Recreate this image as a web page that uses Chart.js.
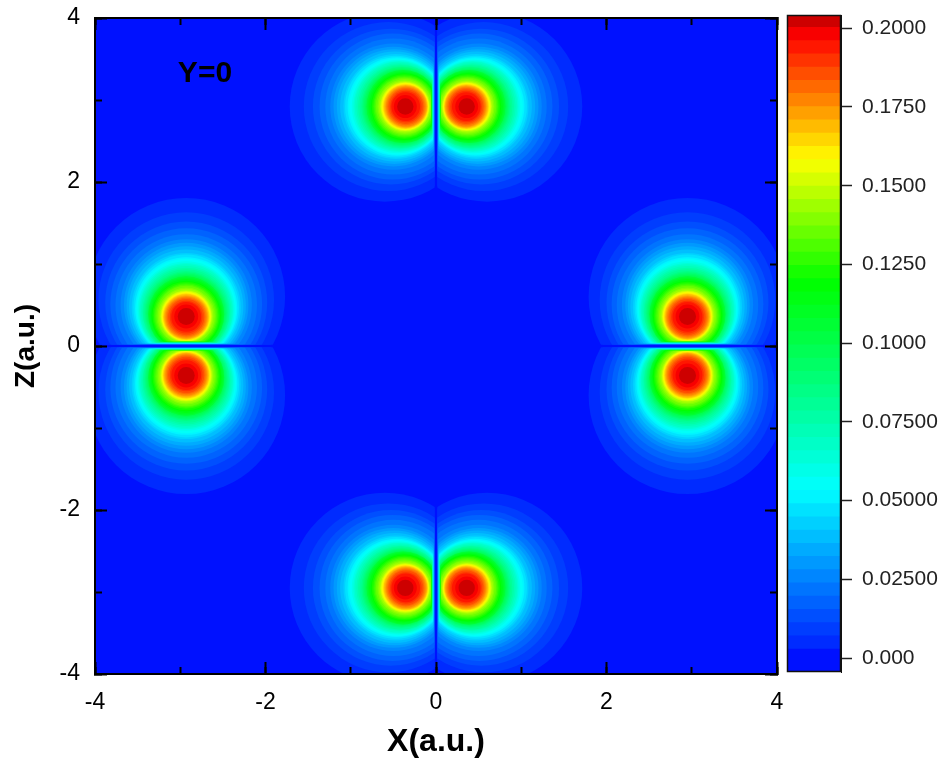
<!DOCTYPE html>
<html><head><meta charset="utf-8">
<script src="https://cdn.jsdelivr.net/npm/chart.js@4.4.1/dist/chart.umd.min.js"></script>
<style>
html,body{margin:0;padding:0;background:#fff;}
#wrap{position:relative;width:943px;height:766px;overflow:hidden;}
#main{position:absolute;left:0;top:0;}
#cbar{position:absolute;left:780px;top:0;}
</style></head><body>
<div id="wrap"><canvas id="main" width="943" height="766"></canvas><canvas id="cbar" width="163" height="766"></canvas></div>
<script>
// ---------------- data ----------------
// orbital sites (centre of each lobe pair) and the axis along which the pair is split
const siteX = [0.0, -2.93, 2.95, 0.0];
const siteZ = [2.92, 0.0, 0.0, -2.95];
const siteSplitAxis = ['x', 'z', 'z', 'x'];

// contour levels of the density
const contourLevels = [0.0033,0.0075,0.0117,0.0159,0.0201,0.0243,0.0285,0.0327,0.0369,0.0411,
  0.0453,0.0495,0.0537,0.0579,0.0621,0.0663,0.0705,0.0747,0.0789,0.0831,
  0.0873,0.0915,0.0957,0.0999,0.1041,0.1083,0.1125,0.1167,0.1209,0.1251,
  0.1293,0.1335,0.1377,0.1419,0.1461,0.1503,0.1545,0.1587,0.1629,0.1671,
  0.1713,0.1755,0.1797,0.1839,0.1881,0.1923,0.1965,0.2007];
// outward reach of each contour from the nodal line (a.u.)
const contourOuterReach = [1.76,1.59,1.48,1.40,1.33,1.27,1.23,1.19,1.15,1.11,
  1.09,1.06,1.04,1.01,0.99,0.975,0.955,0.935,0.915,0.895,
  0.88,0.865,0.85,0.835,0.83,0.815,0.80,0.78,0.768,0.75,
  0.735,0.72,0.70,0.685,0.668,0.66,0.65,0.64,0.63,0.62,
  0.607,0.595,0.58,0.565,0.545,0.53,0.50,0.46];
// half width of each contour across the lobe (a.u.)
const contourHalfWidth = [1.16,1.03,0.95,0.89,0.83,0.77,0.73,0.70,0.67,0.64,
  0.62,0.60,0.585,0.57,0.555,0.545,0.53,0.515,0.505,0.49,
  0.478,0.465,0.452,0.44,0.445,0.432,0.418,0.407,0.395,0.38,
  0.365,0.35,0.335,0.318,0.305,0.297,0.289,0.281,0.273,0.264,
  0.254,0.242,0.227,0.212,0.192,0.175,0.14,0.10];
// distance from the nodal line where each contour stops (a.u.)
const contourNodeGap = [0.015,0.015,0.017,0.020,0.022,0.025,0.027,0.029,0.030,0.032,
  0.034,0.035,0.037,0.038,0.039,0.041,0.042,0.043,0.044,0.046,
  0.047,0.048,0.049,0.050,0.051,0.052,0.053,0.054,0.055,0.056,
  0.057,0.058,0.059,0.060,0.061,0.062,0.063,0.064,0.065,0.066,
  0.067,0.068,0.069,0.070,0.071,0.072,0.073,0.074];

const xTickValues = [-4, -2, 0, 2, 4];
const xTickLabels = ['-4', '-2', '0', '2', '4'];
const zTickValues = [-4, -2, 0, 2, 4];
const zTickLabels = ['-4', '-2', '0', '2', '4'];
const cbRange = [-0.0044, 0.2042];
const cbTickValues = [0, 0.025, 0.05, 0.075, 0.1, 0.125, 0.15, 0.175, 0.2];
const cbTickLabels = ['0.000', '0.02500', '0.05000', '0.07500', '0.1000', '0.1250', '0.1500', '0.1750', '0.2000'];
const annotText = 'Y=0';
const annotPos = [-2.71, 3.32];
const xTitle = 'X(a.u.)';
const zTitle = 'Z(a.u.)';

// ---------------- colour map ----------------
const cmapStops = [[-0.0044,[0,0,255]],[0.054,[0,255,255]],[0.1196,[0,255,0]],[0.1587,[255,255,0]],[0.198,[255,0,0]],[0.2042,[185,0,0]]];
function cmap(v){
  if (v <= cmapStops[0][0]) return 'rgb(' + cmapStops[0][1].join(',') + ')';
  for (let i = 1; i < cmapStops.length; i++){
    if (v <= cmapStops[i][0]){
      const a = cmapStops[i-1], b = cmapStops[i];
      const t = (v - a[0]) / (b[0] - a[0]);
      const c = a[1].map((ch, j) => Math.round(ch + (b[1][j] - ch) * t));
      return 'rgb(' + c.join(',') + ')';
    }
  }
  return 'rgb(' + cmapStops[cmapStops.length-1][1].join(',') + ')';
}
const bandEdges = [cbRange[0], ...contourLevels, cbRange[1]];
function bandColor(i){ return cmap((bandEdges[i] + bandEdges[i+1]) / 2); }

const FAM = "'Liberation Sans', Arial, Helvetica, sans-serif";

// ---------------- main contour chart ----------------
function lobePoints(k){
  const D = contourOuterReach[k] - contourHalfWidth[k];
  const pts = [];
  for (let s = 0; s < siteX.length; s++){
    for (const sg of [-1, 1]){
      if (siteSplitAxis[s] === 'x') pts.push({x: siteX[s] + sg * D, y: siteZ[s], perp: 'y'});
      else pts.push({x: siteX[s], y: siteZ[s] + sg * D, perp: 'x'});
    }
  }
  return pts;
}
const N = contourLevels.length;
const datasets = contourLevels.map((lv, k) => ({
  data: lobePoints(k),
  levelIndex: k,
  backgroundColor: bandColor(k + 1),
  borderWidth: 0,
  hoverRadius: 0,
  hitRadius: 0,
  showLine: false,
  clip: 0,
  order: N - k,
  radius: (c) => {
    if (!c.raw) return 0;
    const sc = c.raw.perp === 'x' ? c.chart.scales.x : c.chart.scales.y;
    const r = Math.abs(sc.getPixelForValue(contourHalfWidth[k]) - sc.getPixelForValue(0));
    return isFinite(r) ? r : 0;
  }
}));

const bgPlugin = {
  id: 'bg',
  beforeDraw(chart){
    const a = chart.chartArea, ctx = chart.ctx;
    ctx.save(); ctx.fillStyle = bandColor(0);
    ctx.fillRect(a.left, a.top, a.right - a.left, a.bottom - a.top);
    ctx.restore();
  }
};
const nodeClip = {
  id: 'nodeClip',
  beforeDatasetDraw(chart, args){
    const ds = chart.data.datasets[args.index];
    if (ds.levelIndex === undefined) return;
    const g = contourNodeGap[ds.levelIndex];
    const {left, right, top, bottom} = chart.chartArea;
    const xs = chart.scales.x, ys = chart.scales.y;
    const x0 = xs.getPixelForValue(0), y0 = ys.getPixelForValue(0);
    const gx = Math.abs(xs.getPixelForValue(g) - x0), gy = Math.abs(ys.getPixelForValue(g) - y0);
    const ctx = chart.ctx;
    ctx.save(); ctx.beginPath();
    ctx.rect(left, top, x0 - gx - left, y0 - gy - top);
    ctx.rect(x0 + gx, top, right - x0 - gx, y0 - gy - top);
    ctx.rect(left, y0 + gy, x0 - gx - left, bottom - y0 - gy);
    ctx.rect(x0 + gx, y0 + gy, right - x0 - gx, bottom - y0 - gy);
    ctx.clip();
  },
  afterDatasetDraw(chart, args){
    const ds = chart.data.datasets[args.index];
    if (ds.levelIndex === undefined) return;
    chart.ctx.restore();
  }
};
const annotPlugin = {
  id: 'annot',
  afterDraw(chart){
    const ctx = chart.ctx;
    ctx.save();
    ctx.font = 'bold 30px ' + FAM; ctx.fillStyle = '#000';
    ctx.textAlign = 'center'; ctx.textBaseline = 'middle';
    ctx.fillText(annotText, chart.scales.x.getPixelForValue(annotPos[0]), chart.scales.y.getPixelForValue(annotPos[1]));
    ctx.restore();
  }
};

function fixSize(s, size){
  if (s.isHorizontal()) { s.height = size; s.paddingLeft = 0; s.paddingRight = 0; }
  else { s.width = size; s.paddingTop = 0; s.paddingBottom = 0; }
}
const tickFont = {family: FAM, size: 23};
function edgeAxis(position, step, len, weight){
  return {
    type: 'linear', position, min: -4, max: 4, weight,
    ticks: {display: false, stepSize: step},
    grid: {drawOnChartArea: false, drawTicks: true, tickLength: -len, tickWidth: 2, tickColor: '#000', z: 1},
    border: {display: true, width: 2, color: '#000', z: 1},
    afterFit: (s) => fixSize(s, 0)
  };
}

new Chart(document.getElementById('main'), {
  type: 'scatter',
  data: {datasets},
  plugins: [bgPlugin, nodeClip, annotPlugin],
  options: {
    responsive: false, animation: false, events: [],
    layout: {autoPadding: false, padding: {left: 0, top: 18, right: 166, bottom: 0}},
    plugins: {legend: {display: false}, tooltip: {enabled: false}},
    scales: {
      x: {
        type: 'linear', position: 'bottom', min: -4, max: 4, weight: 10,
        afterBuildTicks: (s) => { s.ticks = xTickValues.map(v => ({value: v})); },
        ticks: {callback: (v, i) => xTickLabels[i], font: tickFont, color: '#000', padding: 27, maxRotation: 0, autoSkip: false},
        grid: {drawOnChartArea: false, drawTicks: true, tickLength: -12, tickWidth: 2, tickColor: '#000', z: 1},
        border: {display: true, width: 2, color: '#000', z: 1},
        title: {display: true, text: xTitle, color: '#000', font: {family: FAM, size: 32, weight: 'bold'}, padding: {top: 0, bottom: 5}},
        afterFit: (s) => fixSize(s, 92)
      },
      xMinor: edgeAxis('bottom', 1, 7, 0),
      xTop: edgeAxis('top', 2, 12, 10),
      xTopMinor: edgeAxis('top', 1, 7, 0),
      y: {
        type: 'linear', position: 'left', min: -4, max: 4, weight: 10,
        afterBuildTicks: (s) => { s.ticks = zTickValues.map(v => ({value: v})); },
        ticks: {callback: (v, i) => zTickLabels[i], font: tickFont, color: '#000', padding: 27, autoSkip: false},
        grid: {drawOnChartArea: false, drawTicks: true, tickLength: -12, tickWidth: 2, tickColor: '#000', z: 1},
        border: {display: true, width: 2, color: '#000', z: 1},
        title: {display: true, text: zTitle, color: '#000', font: {family: FAM, size: 28, weight: 'bold'}, padding: {top: 9, bottom: 0}},
        afterFit: (s) => fixSize(s, 95)
      },
      yMinor: edgeAxis('left', 1, 7, 0),
      yRight: edgeAxis('right', 2, 12, 10),
      yRightMinor: edgeAxis('right', 1, 7, 0)
    }
  }
});

// ---------------- colour bar ----------------
const cbBands = bandEdges.slice(0, -1).map((lo, i) => [i === 0 ? lo : lo - 0.0002, bandEdges[i+1]]);
const framePlugin = {
  id: 'frame',
  afterDatasetsDraw(chart){
    const a = chart.chartArea, ctx = chart.ctx;
    ctx.save(); ctx.strokeStyle = '#111'; ctx.lineWidth = 1.5;
    ctx.strokeRect(a.left + 0.5, a.top + 0.5, a.right - a.left - 1, a.bottom - a.top - 1);
    ctx.restore();
  }
};
new Chart(document.getElementById('cbar'), {
  type: 'bar',
  data: {
    labels: ['c'],
    datasets: cbBands.map((b, i) => ({
      data: [b], backgroundColor: bandColor(i), borderWidth: 0, grouped: false,
      barPercentage: 1, categoryPercentage: 1, order: cbBands.length - i
    }))
  },
  plugins: [framePlugin],
  options: {
    responsive: false, animation: false, events: [],
    layout: {autoPadding: false, padding: {left: 7, top: 15, right: 0, bottom: 94}},
    plugins: {legend: {display: false}, tooltip: {enabled: false}},
    scales: {
      x: {display: false},
      y: {
        position: 'right', min: cbRange[0], max: cbRange[1],
        afterBuildTicks: (s) => { s.ticks = cbTickValues.map(v => ({value: v})); },
        ticks: {callback: (v, i) => cbTickLabels[i], font: {family: FAM, size: 21}, color: '#222', padding: 10, autoSkip: false},
        grid: {drawOnChartArea: false, drawTicks: true, tickLength: 11, tickWidth: 1.5, tickColor: '#222'},
        border: {display: true, color: '#111', width: 1},
        afterFit: (s) => fixSize(s, 102)
      }
    }
  }
});
</script>
</body></html>
